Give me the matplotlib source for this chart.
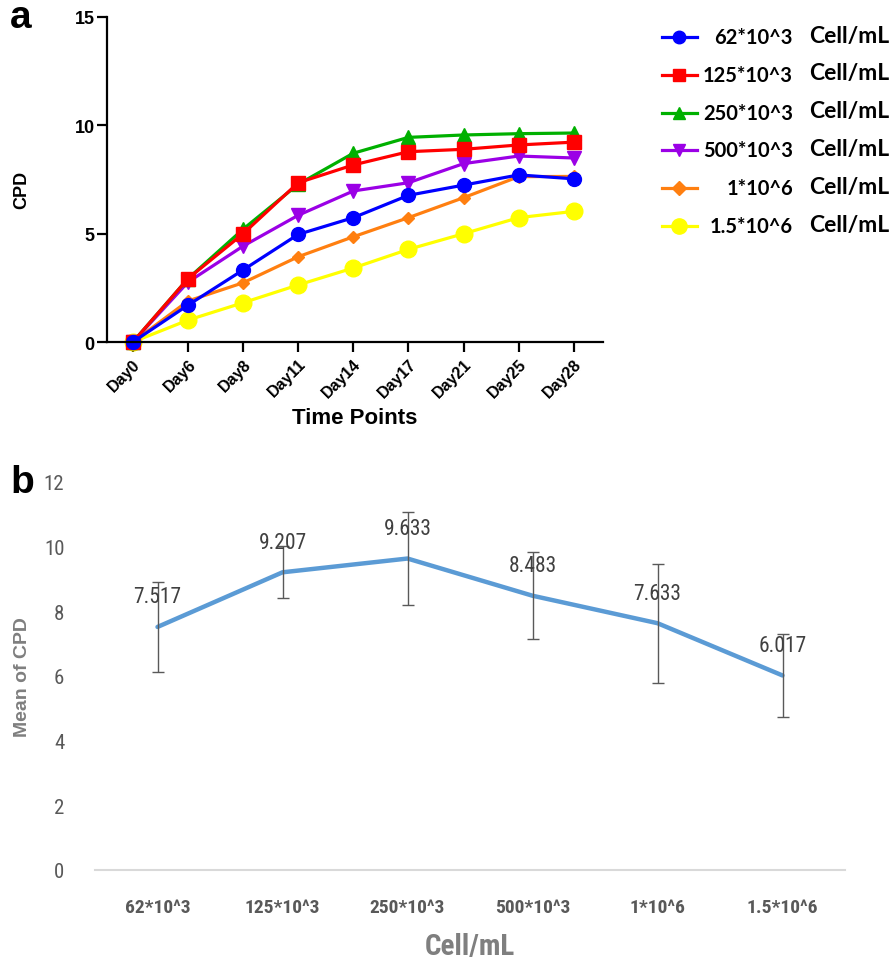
import numpy as np
import matplotlib
matplotlib.use("Agg")
import matplotlib.pyplot as plt
from matplotlib.lines import Line2D
from matplotlib import font_manager

# ---- data -----------------------------------------------------------------
days = ["Day0", "Day6", "Day8", "Day11", "Day14", "Day17", "Day21", "Day25", "Day28"]

cpd_62k = [0, 1.70, 3.32, 4.96, 5.73, 6.76, 7.23, 7.70, 7.52]
cpd_125k = [0, 2.92, 4.99, 7.34, 8.16, 8.77, 8.88, 9.08, 9.21]
cpd_250k = [0, 2.92, 5.20, 7.27, 8.70, 9.43, 9.54, 9.60, 9.63]
cpd_500k = [0, 2.76, 4.42, 5.84, 6.96, 7.34, 8.22, 8.57, 8.48]
cpd_1m = [0, 1.89, 2.73, 3.93, 4.85, 5.73, 6.65, 7.62, 7.63]
cpd_15m = [0, 1.01, 1.81, 2.63, 3.41, 4.27, 4.99, 5.73, 6.02]

densities = ["62*10^3", "125*10^3", "250*10^3", "500*10^3", "1*10^6", "1.5*10^6"]
mean_cpd = [7.517, 9.207, 9.633, 8.483, 7.633, 6.017]
err_cpd = [1.40, 0.80, 1.45, 1.34, 1.84, 1.27]

# ---- fonts ------------------------------------------------------------------
names = {f.name for f in font_manager.fontManager.ttflist}
narrow = "DejaVu Sans"
for cand in ["Liberation Sans Narrow", "Roboto Condensed", "Open Sans Condensed"]:
    if cand in names:
        narrow = cand
        break
arial = "Liberation Sans"
nfont = dict(family=narrow, stretch="condensed")

fig = plt.figure(figsize=(8.94, 9.62), dpi=100)

# ---- panel a ----------------------------------------------------------------
ax = fig.add_axes([107 / 894, 1 - 343 / 962, 496 / 894, 325.5 / 962])
x = np.arange(len(days))
styles = [  # drawn bottom to top
    (cpd_15m, "#ffff00", "o", 12),
    (cpd_1m, "#ff7f10", "D", 6.5),
    (cpd_500k, "#9b00e6", "v", 10),
    (cpd_250k, "#00b000", "^", 10),
    (cpd_125k, "#ff0000", "s", 10),
    (cpd_62k, "#0000ff", "o", 10),
]
for vals, c, m, ms in styles:
    ax.plot(x, vals, color=c, marker=m, ms=ms, lw=2.3, clip_on=False)

ax.set_xlim(-0.47, 8.53)
ax.set_ylim(0, 15)
ax.set_yticks([0, 5, 10, 15])
ax.set_xticks(x)
ax.set_xticklabels(days, rotation=45, ha="right", rotation_mode="anchor",
                   fontsize=11.5, fontweight="bold", family=arial)
for lab in ax.get_yticklabels():
    lab.set_fontsize(13)
    lab.set_fontweight("bold")
    lab.set_family(arial)
ax.spines["top"].set_visible(False)
ax.spines["right"].set_visible(False)
ax.spines["left"].set_linewidth(1.6)
ax.spines["bottom"].set_linewidth(1.6)
ax.tick_params(width=1.6, length=7, pad=2)
ax.tick_params(axis="x", pad=3)
ax.set_ylabel("CPD", fontsize=13, fontweight="bold", family=arial, labelpad=0)
ax.yaxis.set_label_coords(-0.155, 0.47)
ax.set_xlabel("Time Points", fontsize=16, fontweight="bold", family=arial)
ax.xaxis.set_label_coords(0.5, -0.2)
fig.text(10 / 894, 1 - 18 / 962, "a", fontsize=28, fontweight="bold", family=arial,
         ha="left", va="center")

# legend, drawn by hand
leg_colors = ["#0000ff", "#ff0000", "#00b000", "#9b00e6", "#ff7f10", "#ffff00"]
leg_markers = ["o", "s", "^", "v", "D", "o"]
leg_ms = [9, 9, 9, 9, 7, 11]
for i, lab in enumerate(densities):
    yy = 1 - (38 + 37.8 * i) / 962
    fig.add_artist(Line2D([662 / 894, 697 / 894], [yy, yy], color=leg_colors[i], lw=2.3,
                          transform=fig.transFigure))
    fig.add_artist(Line2D([679 / 894], [yy], color=leg_colors[i], marker=leg_markers[i],
                          ms=leg_ms[i], transform=fig.transFigure))
    fig.text(793 / 894, yy, lab, fontsize=14.5, fontweight="bold", family="Lato",
             ha="right", va="center")
    fig.text(809 / 894, yy + 0.002, "Cell/mL", fontsize=16.5, fontweight="bold",
             family="Lato", ha="left", va="center")

# ---- panel b ----------------------------------------------------------------
bx = fig.add_axes([95 / 894, 1 - 871 / 962, 750 / 894, 388 / 962])
xb = np.arange(len(densities))
bx.plot(xb, mean_cpd, color="#5b9bd5", lw=3.2, solid_capstyle="round", zorder=2)
bx.errorbar(xb, mean_cpd, yerr=err_cpd, fmt="none", ecolor="#595959", elinewidth=1,
            capsize=4, capthick=1, zorder=3)
for xi, v in zip(xb, mean_cpd):
    bx.annotate(f"{v:.3f}", (xi, v), xytext=(0, 30), textcoords="offset pixels",
                ha="center", va="center", fontsize=15.5, color="#404040", **nfont)
bx.set_xlim(-0.5, len(densities) - 0.5)
bx.set_ylim(0, 12)
bx.set_yticks(range(0, 13, 2))
bx.set_xticks(xb)
bx.set_xticklabels(densities, fontsize=14, fontweight="bold", color="#595959", **nfont)
for lab in bx.get_yticklabels():
    lab.set_fontsize(15)
    lab.set_color("#595959")
    lab.set_family(narrow)
    lab.set_stretch("condensed")
for s in ["top", "right", "left"]:
    bx.spines[s].set_visible(False)
bx.spines["bottom"].set_color("#d9d9d9")
bx.spines["bottom"].set_linewidth(1.5)
bx.tick_params(length=0, pad=20)
bx.tick_params(axis="y", pad=22)
bx.set_ylabel("Mean of CPD", fontsize=14, fontweight="bold", color="#7f7f7f", family=arial)
bx.yaxis.set_label_coords(-0.085, 0.5)
bx.set_xlabel("Cell/mL", fontsize=21, fontweight="semibold", color="#7f7f7f", **nfont)
bx.xaxis.set_label_coords(0.5, -0.16)
fig.text(10 / 894, 1 - 483 / 962, "b", fontsize=28, fontweight="bold", family=arial,
         ha="left", va="center")

fig.savefig("out.png", dpi=100)
